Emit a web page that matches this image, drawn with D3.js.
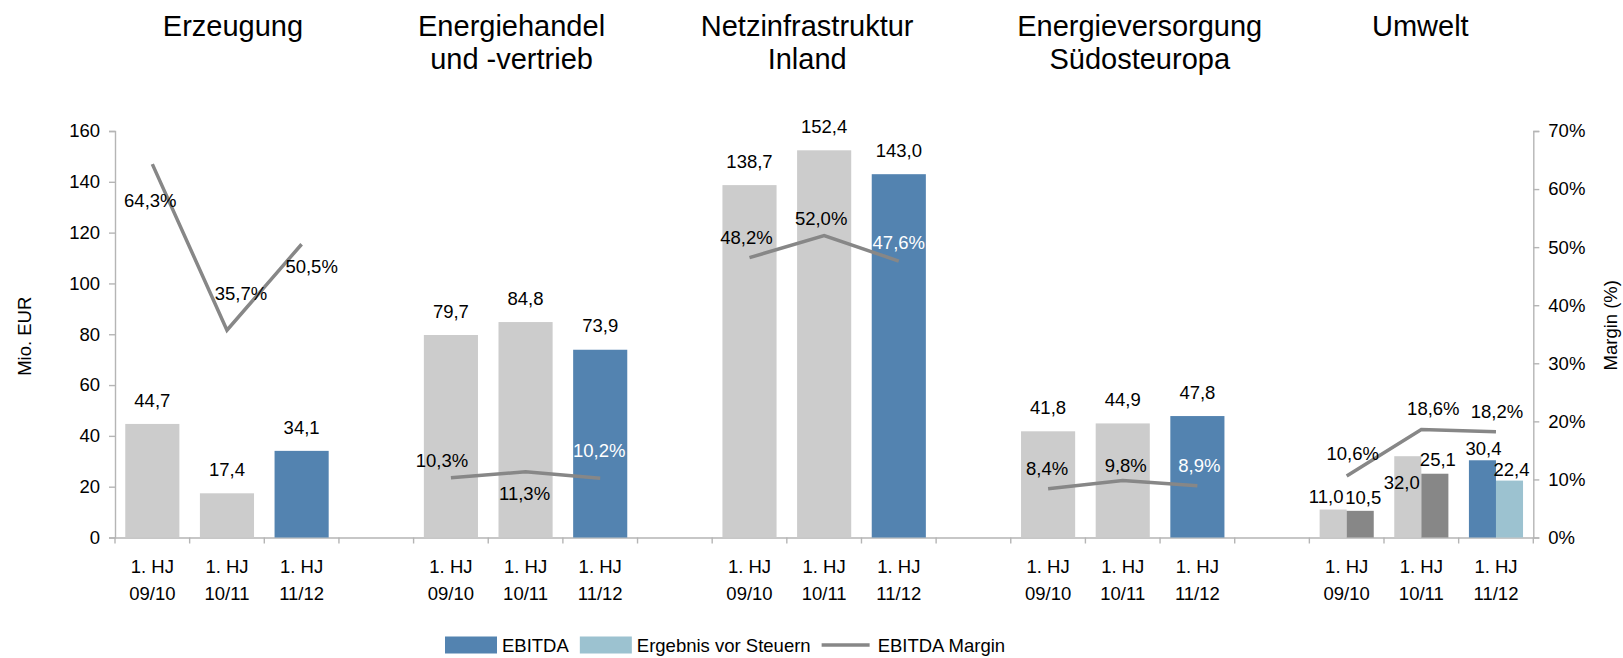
<!DOCTYPE html>
<html>
<head>
<meta charset="utf-8">
<script src="https://cdn.jsdelivr.net/npm/d3@7"></script>
<style>
  html, body { margin: 0; padding: 0; background: #fff; }
  svg { display: block; font-family: "Liberation Sans", Arial, sans-serif; }
</style>
</head>
<body>
<div id="chart"></div>
<script>
// chart values
const segments = [['Erzeugung'], ['Energiehandel', 'und -vertrieb'], ['Netzinfrastruktur', 'Inland'], ['Energieversorgung', 'Südosteuropa'], ['Umwelt']];
const periods = [['1. HJ', '09/10'], ['1. HJ', '10/11'], ['1. HJ', '11/12']];
const ebitda = [[44.7, 17.4, 34.1], [79.7, 84.8, 73.9], [138.7, 152.4, 143.0], [41.8, 44.9, 47.8], [11.0, 32.0, 30.4]];
const ergebnis = [null, null, null, null, [10.5, 25.1, 22.4]];
const ebitdaMargin = [[64.3, 35.7, 50.5], [10.3, 11.3, 10.2], [48.2, 52.0, 47.6], [8.4, 9.8, 8.9], [10.6, 18.6, 18.2]];
const eurTicks = [0, 20, 40, 60, 80, 100, 120, 140, 160];
const pctTicks = [0, 10, 20, 30, 40, 50, 60, 70];
const legendItems = ['EBITDA', 'Ergebnis vor Steuern', 'EBITDA Margin'];

// layout
const W = 1623, H = 658;
const plot = { left: 115, right: 1533.3, top: 131, bottom: 537.5 };
const colors = { past: '#cccccc', ebitda: '#5383b0', pastErg: '#878787', erg: '#9cc2d0', line: '#878787', axis: '#b5b5b5', text: '#000' };
const fontSize = 18.5;
// hand placed labels in the original (dx, dy from the point / bar top)
const titleShift = [6, -14, -17, 17, -1];
const marginNudge = [
    [[-2, 36], [14, -37], [10, 22]],
    [[-9, -17], [-1, 21], [-1, -28]],
    [[-3, -20], [-3, -17], [0, -19]],
    [[-1, -20], [3, -15], [2, -20]],
    [[6, -23], [12, -21], [1, -20]]
];
const barNudge = { ebitda: [[-7, -13], [-6, 26], [1, -12]], ergebnis: [[3, -13], [3, -14], [2, -11]] };

const fmt = d3.formatLocale({ decimal: ',', thousands: '.', grouping: [3], currency: ['', '€'] }).format('.1f');

const svg = d3.select('#chart').append('svg')
    .attr('width', W)
    .attr('height', H)
    .style('font-size', fontSize + 'px');

// category slots: 3 periods per segment, one empty slot between segments
const slots = [];
segments.forEach((s, g) => {
    periods.forEach((p, i) => slots.push(g + '-' + i));
    if (g < segments.length - 1) slots.push('gap' + g);
});

const x = d3.scaleBand().domain(slots).range([plot.left, plot.right]);
const barW = x.bandwidth() * 0.725;
const yL = d3.scaleLinear().domain([0, 160]).range([plot.bottom, plot.top]);
const yR = d3.scaleLinear().domain([0, 70]).range([plot.bottom, plot.top]);

// left axis
const gl = svg.append('g')
    .attr('transform', `translate(${plot.left},0)`)
    .call(d3.axisLeft(yL).tickValues(eurTicks).tickSize(6).tickPadding(9).tickFormat(d3.format('d')));

// right axis
const gr = svg.append('g')
    .attr('transform', `translate(${plot.right},0)`)
    .call(d3.axisRight(yR).tickValues(pctTicks).tickSize(6).tickPadding(9).tickFormat(d => d + '%'));

// bottom axis
const gb = svg.append('g')
    .attr('transform', `translate(0,${plot.bottom})`)
    .call(d3.axisBottom(x).tickSize(0).tickSizeOuter(0));

gb.selectAll('.tick text').each(function(d) {
    const t = d3.select(this).text(null).attr('y', null).attr('dy', null);
    if (d.startsWith('gap')) return;
    const lines = periods[+d.split('-')[1]];
    lines.forEach((s, i) => t.append('tspan').attr('x', 0).attr('y', 35.5 + i * 27).text(s));
});
gb.selectAll('.bound')
    .data(d3.range(slots.length + 1))
    .join('line')
    .attr('class', 'bound')
    .attr('x1', i => plot.left + i * x.step())
    .attr('x2', i => plot.left + i * x.step())
    .attr('y1', 0)
    .attr('y2', 6);

[gl, gr, gb].forEach(g => {
    g.style('font-size', fontSize + 'px').style('font-family', 'inherit');
    g.selectAll('path.domain, line').attr('stroke', colors.axis).attr('stroke-width', 1.4);
    g.selectAll('text').attr('fill', colors.text);
});

// bars
const bars = [];
segments.forEach((s, g) => {
    periods.forEach((p, i) => {
        const slot = g + '-' + i;
        const x0 = x(slot) + (x.bandwidth() - barW) / 2;
        const cur = i === periods.length - 1;
        if (ergebnis[g]) {
            bars.push({ g, i, x: x0, w: barW / 2, v: ebitda[g][i], fill: cur ? colors.ebitda : colors.past, nudge: barNudge.ebitda[i] });
            bars.push({ g, i, x: x0 + barW / 2, w: barW / 2, v: ergebnis[g][i], fill: cur ? colors.erg : colors.pastErg, nudge: barNudge.ergebnis[i] });
        } else {
            bars.push({ g, i, x: x0, w: barW, v: ebitda[g][i], fill: cur ? colors.ebitda : colors.past, nudge: [0, -24] });
        }
    });
});

svg.append('g').selectAll('rect')
    .data(bars)
    .join('rect')
    .attr('x', d => d.x)
    .attr('y', d => yL(d.v))
    .attr('width', d => d.w)
    .attr('height', d => yL(0) - yL(d.v))
    .attr('fill', d => d.fill);

// margin lines, one per segment
const line = d3.line()
    .x(d => x(d.slot) + x.bandwidth() / 2)
    .y(d => yR(d.v));

const marginPts = segments.map((s, g) => ebitdaMargin[g].map((v, i) => ({ g, i, slot: g + '-' + i, v })));

svg.append('g').selectAll('path')
    .data(marginPts)
    .join('path')
    .attr('d', line)
    .attr('fill', 'none')
    .attr('stroke', colors.line)
    .attr('stroke-width', 3.5);

// bar labels
svg.append('g').selectAll('text')
    .data(bars)
    .join('text')
    .attr('x', d => d.x + d.w / 2 + d.nudge[0])
    .attr('y', d => yL(d.v) + d.nudge[1])
    .attr('dy', '0.36em')
    .attr('text-anchor', 'middle')
    .attr('fill', colors.text)
    .text(d => fmt(d.v));

// margin labels, white where they sit on a blue bar
function onBlueBar(d, ly) {
    return !ergebnis[d.g] && d.i === periods.length - 1 && ly > yL(ebitda[d.g][d.i]);
}
svg.append('g').selectAll('text')
    .data(marginPts.flat())
    .join('text')
    .each(function(d) {
        const n = marginNudge[d.g][d.i];
        const lx = x(d.slot) + x.bandwidth() / 2 + n[0];
        const ly = yR(d.v) + n[1];
        d3.select(this)
            .attr('x', lx)
            .attr('y', ly)
            .attr('dy', '0.36em')
            .attr('text-anchor', 'middle')
            .attr('fill', onBlueBar(d, ly) ? '#fff' : colors.text)
            .text(fmt(d.v) + '%');
    });

// segment titles
svg.append('g').selectAll('text')
    .data(segments)
    .join('text')
    .attr('text-anchor', 'middle')
    .style('font-size', '29px')
    .attr('fill', colors.text)
    .each(function(s, g) {
        const cx = x(g + '-1') + x.bandwidth() / 2 + titleShift[g];
        s.forEach((t, k) => d3.select(this).append('tspan').attr('x', cx).attr('y', 36 + k * 33).text(t));
    });

// axis titles
svg.append('text')
    .attr('transform', `translate(24,${(plot.top + plot.bottom) / 2 + 2}) rotate(-90)`)
    .attr('text-anchor', 'middle')
    .attr('dy', '0.36em')
    .attr('fill', colors.text)
    .text('Mio. EUR');

svg.append('text')
    .attr('transform', `translate(1610,${(plot.top + plot.bottom) / 2 - 9}) rotate(-90)`)
    .attr('text-anchor', 'middle')
    .attr('dy', '0.36em')
    .attr('fill', colors.text)
    .text('Margin (%)');

// legend
const legend = svg.append('g').attr('transform', `translate(445,${H - 13})`);
let lx = 0;
legendItems.forEach((name, k) => {
    if (k < 2) {
        legend.append('rect')
            .attr('x', lx).attr('y', -8.5)
            .attr('width', 52).attr('height', 17)
            .attr('fill', k === 0 ? colors.ebitda : colors.erg);
    } else {
        legend.append('line')
            .attr('x1', lx).attr('x2', lx + 48)
            .attr('stroke', colors.line).attr('stroke-width', 3.5);
    }
    lx += k < 2 ? 57 : 56;
    const t = legend.append('text')
        .attr('x', lx)
        .attr('dy', '0.36em')
        .attr('fill', colors.text)
        .text(name);
    lx += t.node().getComputedTextLength() + 11;
});
</script>
</body>
</html>
